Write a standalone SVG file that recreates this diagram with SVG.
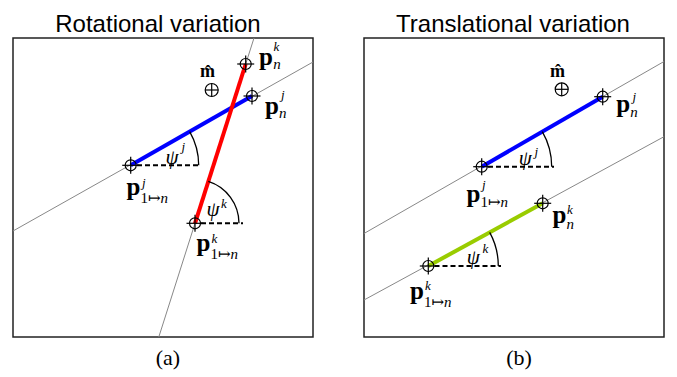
<svg xmlns="http://www.w3.org/2000/svg" xmlns:xlink="http://www.w3.org/1999/xlink" width="677" height="377" viewBox="0 0 677 377">
<style>
.title{font-family:"Liberation Sans",Arial,sans-serif;font-size:24px;fill:#000;text-anchor:middle}
.cap{font-family:"Liberation Serif","DejaVu Serif",serif;font-size:22px;fill:#000;text-anchor:middle}
.p{font-family:"Liberation Serif","DejaVu Serif",serif;font-size:25px;font-weight:bold;fill:#000}
.m{font-family:"Liberation Serif","DejaVu Serif",serif;font-size:18px;font-weight:bold;fill:#000}
.sup{font-family:"Liberation Serif","DejaVu Serif",serif;font-size:13px;font-style:italic;fill:#000}
.sub{font-family:"Liberation Serif","DejaVu Serif",serif;font-size:15px;fill:#000}
.it{font-style:italic}
.psi{font-family:"Liberation Serif","DejaVu Serif",serif;font-size:21px;font-style:italic;fill:#000}
.frame{fill:#fff;stroke:#222;stroke-width:1.5}
.guide{stroke:#888;stroke-width:1;fill:none}
.seg{stroke-width:4;fill:none;stroke-linecap:butt}
.dash{stroke:#000;stroke-width:2;stroke-dasharray:5,3;fill:none}
.arc{stroke:#000;stroke-width:1.3;fill:none}
.tgt{stroke:#000;stroke-width:1.2;fill:none}
</style>
<defs>
<g id="target">
<circle cx="0" cy="0" r="5.5" class="tgt"/>
<line x1="-8.5" y1="0" x2="8.5" y2="0" class="tgt"/>
<line x1="0" y1="-8.5" x2="0" y2="8.5" class="tgt"/>
</g>
<g id="mtarget">
<circle cx="0" cy="0" r="6.5" class="tgt" stroke-width="1.4"/>
<line x1="-6.5" y1="0" x2="6.5" y2="0" class="tgt" stroke-width="1.4"/>
<line x1="0" y1="-6.5" x2="0" y2="6.5" class="tgt" stroke-width="1.4"/>
</g>
</defs>
<rect width="677" height="377" fill="#fff"/>

<g id="titles">
<text class="title" x="158" y="32">Rotational variation</text>
<text class="title" x="513" y="32">Translational variation</text>
</g>

<g id="frames">
<rect class="frame" x="13" y="38" width="300" height="299"/>
<rect class="frame" x="364" y="38" width="300" height="299"/>
</g>

<g id="connectors">
<line class="guide" x1="13" y1="231" x2="313" y2="62"/>
<line class="guide" x1="254" y1="38" x2="158.8" y2="337"/>
<line class="seg" stroke="#0000ff" x1="130.7" y1="165.3" x2="252" y2="96"/>
<line class="seg" stroke="#ff0000" x1="195" y1="223.3" x2="245.7" y2="64"/>
<line class="dash" x1="137" y1="165.3" x2="201" y2="165.3"/>
<path class="arc" d="M189.7,131.6 A68,68 0 0 1 198.7,165.3"/>
<line class="dash" x1="201" y1="223.3" x2="243" y2="223.3"/>
<path class="arc" d="M208.3,181.4 A44,44 0 0 1 239,223.3"/>
<line class="guide" x1="364" y1="233.5" x2="664" y2="61.5"/>
<line class="guide" x1="364" y1="300" x2="664" y2="136.7"/>
<line class="seg" stroke="#0000ff" x1="481.7" y1="166.7" x2="602.7" y2="96.7"/>
<line class="seg" stroke="#99cc00" x1="428.3" y1="266" x2="542.7" y2="203.3"/>
<line class="dash" x1="488" y1="166.7" x2="554" y2="166.7"/>
<path class="arc" d="M542.3,131.7 A70,70 0 0 1 551.7,166.7"/>
<line class="dash" x1="434.5" y1="266" x2="501" y2="266"/>
<path class="arc" d="M489.7,232.4 A70,70 0 0 1 498.3,266"/>
</g>

<g id="a-m">
<use xlink:href="#mtarget" x="211.7" y="90"/>
<text class="m" x="207.5" y="77.3" text-anchor="middle">m&#770;</text>
</g>
<g id="a-pnk">
<use xlink:href="#target" x="245.7" y="64"/>
<text class="p" x="259" y="64.7">p</text>
<text class="sup" x="273.5" y="50.5">k</text>
<text class="sub it" x="273.2" y="68.5">n</text>
</g>
<g id="a-pnj">
<use xlink:href="#target" x="252" y="96"/>
<text class="p" x="265" y="114">p</text>
<text class="sup" x="281" y="99">j</text>
<text class="sub it" x="279" y="117.5">n</text>
</g>
<g id="a-p1j">
<use xlink:href="#target" x="130.7" y="165.3"/>
<text class="p" x="126.5" y="194.7">p</text>
<text class="sup" x="142" y="187">j</text>
<text class="sub" x="140.5" y="202.7">1&#8614;<tspan class="it">n</tspan></text>
</g>
<g id="a-p1k">
<use xlink:href="#target" x="195" y="223.3"/>
<text class="p" x="196.5" y="251.4">p</text>
<text class="sup" x="211.5" y="242.7">k</text>
<text class="sub" x="210.5" y="259">1&#8614;<tspan class="it">n</tspan></text>
</g>
<g id="a-psij">
<text class="psi" x="165.5" y="163.5">&#968;</text>
<text class="sup" x="181.5" y="151">j</text>
</g>
<g id="a-psik">
<text class="psi" x="206.5" y="215.5">&#968;</text>
<text class="sup" x="221" y="207.8">k</text>
</g>

<g id="b-m">
<use xlink:href="#mtarget" x="561.7" y="89.3"/>
<text class="m" x="557.5" y="76.7" text-anchor="middle">m&#770;</text>
</g>
<g id="b-pnj">
<use xlink:href="#target" x="602.7" y="96.7"/>
<text class="p" x="616.2" y="112">p</text>
<text class="sup" x="632.5" y="100.5">j</text>
<text class="sub it" x="630.3" y="116.5">n</text>
</g>
<g id="b-p1j">
<use xlink:href="#target" x="481.7" y="166.7"/>
<text class="p" x="466.5" y="201.5">p</text>
<text class="sup" x="482" y="189">j</text>
<text class="sub" x="480.5" y="206.7">1&#8614;<tspan class="it">n</tspan></text>
</g>
<g id="b-pnk">
<use xlink:href="#target" x="542.7" y="203.3"/>
<text class="p" x="552.5" y="223">p</text>
<text class="sup" x="567" y="214">k</text>
<text class="sub it" x="566.5" y="229">n</text>
</g>
<g id="b-p1k">
<use xlink:href="#target" x="428.3" y="266"/>
<text class="p" x="410" y="298.7">p</text>
<text class="sup" x="425" y="290">k</text>
<text class="sub" x="424" y="306.7">1&#8614;<tspan class="it">n</tspan></text>
</g>
<g id="b-psij">
<text class="psi" x="518.8" y="164.5">&#968;</text>
<text class="sup" x="534.5" y="155.5">j</text>
</g>
<g id="b-psik">
<text class="psi" x="466.8" y="264">&#968;</text>
<text class="sup" x="482.5" y="252.5">k</text>
</g>

<g id="captions">
<text class="cap" x="168" y="365">(a)</text>
<text class="cap" x="519" y="365">(b)</text>
</g>
</svg>
